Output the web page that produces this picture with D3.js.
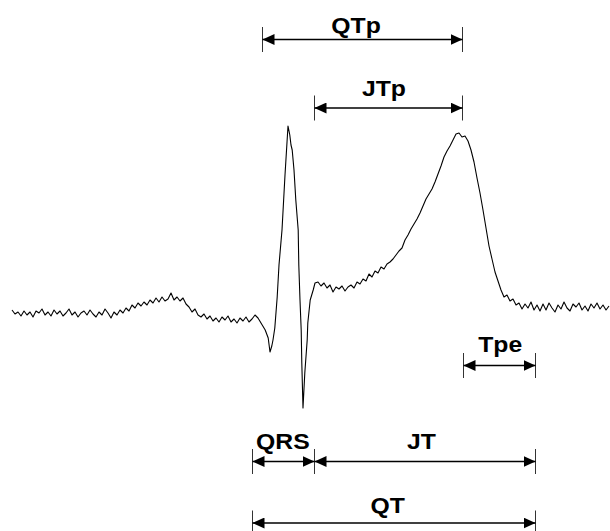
<!DOCTYPE html>
<html>
<head>
<meta charset="utf-8">
<script src="https://cdn.jsdelivr.net/npm/d3@7"></script>
<style>
  body { margin: 0; background: #fff; }
  svg { display: block; }
</style>
</head>
<body>
<div id="app"></div>
<script>
// ECG trace, amplitude in mV
// lead-in (P wave + baseline), one value every 5 ms from t = 0
const leadIn = [
  0.00,-0.04,-0.02,-0.06,-0.01,-0.05,-0.02,-0.07,-0.01,-0.03,
  0.01,-0.05,-0.02,-0.06,0.00,-0.04,-0.01,-0.06,-0.03,0.01,
  -0.05,-0.02,-0.07,-0.03,-0.01,-0.05,0.00,-0.04,-0.07,-0.02,
  -0.05,0.01,-0.03,-0.08,-0.02,-0.05,0.00,-0.03,0.02,-0.01,
  0.05,0.02,0.07,0.04,0.08,0.05,0.10,0.07,0.12,0.08,
  0.13,0.09,0.11,0.17,0.10,0.13,0.09,0.12,0.06,0.03,
  -0.02,0.01,-0.05,-0.07,-0.04,-0.09,-0.06,-0.11,-0.08,-0.12,
  -0.07,-0.10,-0.06,-0.12,-0.09,-0.13,-0.08,-0.11,-0.07,-0.12,
  -0.09,-0.05,-0.08
];
// QRS complex, [ms, mV]
const qrs = [
  [417,-0.15],[422,-0.20],[427,-0.28],[430,-0.42],[433,-0.36],[435,-0.30],
  [438,-0.18],[442,0.13],[445,0.45],[450,0.80],[455,1.35],[460,1.84],
  [463,1.75],[465,1.65],[467,1.60],[470,1.40],[473,1.10],[477,0.80],
  [478,0.45],[480,0.10],[482,-0.20],[483,-0.53],[485,-0.98],[488,-0.63],
  [492,-0.30],[493,-0.13],[497,0.10],[502,0.20]
];
// ST segment, T wave and tail, one value every 5 ms from t = 505
const repol = [
  0.27,0.28,0.24,0.27,0.22,0.25,0.18,0.23,0.21,0.24,
  0.19,0.23,0.25,0.22,0.28,0.26,0.31,0.29,0.36,0.33,
  0.39,0.37,0.43,0.41,0.46,0.48,0.51,0.55,0.59,0.62,
  0.70,0.75,0.81,0.86,0.91,0.97,1.04,1.11,1.16,1.21,
  1.28,1.36,1.44,1.53,1.59,1.64,1.70,1.76,1.77,1.73,
  1.74,1.69,1.60,1.48,1.32,1.17,1.00,0.82,0.64,0.51,
  0.38,0.29,0.20,0.13,0.15,0.09,0.11,0.05,0.07,0.01,
  0.06,0.02,0.08,0.00,0.05,-0.01,0.06,0.00,0.07,0.02,
  -0.02,0.05,0.01,0.08,0.02,-0.01,0.06,0.03,0.07,0.00,
  0.04,-0.01,0.06,0.02,0.07,0.01,0.05,0.00,0.04
];

// intervals (ms)
const intervalNames = ["QTp", "JTp", "Tpe", "QRS", "JT", "QT"];
const intervalStart = [417, 503, 752, 400, 503, 400];
const intervalEnd   = [750, 750, 872, 503, 872, 872];

let width = 610;
let height = 531;

// row layout for each interval: arrow line y, label baseline y, label nudge
const rowY   = {QTp: 39.5, JTp: 108, Tpe: 365.5, QRS: 461.5, JT: 461.5, QT: 523};
const labelY = {QTp: 33, JTp: 96, Tpe: 352, QRS: 448.5, JT: 448.5, QT: 512.5};
const labelDx = {QTp: -6, JTp: -4, Tpe: 1, QRS: 0, JT: -3, QT: -6};

const trace = [];
leadIn.forEach((v, i) => trace.push([i * 5, v]));
qrs.forEach(d => trace.push(d));
repol.forEach((v, i) => trace.push([505 + i * 5, v]));

const x = d3.scaleLinear().domain([0, 995]).range([12, 609]);
const y = d3.scaleLinear().domain([-1, 1.9]).range([410, 120]);

let svg = d3.select("#app")
  .append("svg")
  .attr("width", width)
  .attr("height", height)
  .attr("viewBox", [0, 0, width, height]);

svg.append("rect").attr("width", width).attr("height", height).attr("fill", "#fff");

const line = d3.line().x(d => x(d[0])).y(d => y(d[1]));

svg.append("path")
  .datum(trace)
  .attr("fill", "none")
  .attr("stroke", "#000")
  .attr("stroke-width", 1.1)
  .attr("stroke-linejoin", "round")
  .attr("d", line);

// arrowhead
svg.append("defs").append("marker")
  .attr("id", "head")
  .attr("viewBox", "0 0 12 11")
  .attr("refX", 12)
  .attr("refY", 5.5)
  .attr("markerUnits", "userSpaceOnUse")
  .attr("markerWidth", 12)
  .attr("markerHeight", 11)
  .attr("orient", "auto-start-reverse")
  .append("path")
  .attr("d", "M0,0L12,5.5L0,11Z")
  .attr("fill", "#000");

const intervals = intervalNames.map((name, i) => ({
  name, start: intervalStart[i], end: intervalEnd[i]
}));

let g = svg.append("g").attr("id", "intervals");

// end bars
intervals.forEach(d => {
  [d.start, d.end].forEach(t => {
    g.append("line")
      .attr("x1", Math.round(x(t)) + 0.5).attr("x2", Math.round(x(t)) + 0.5)
      .attr("y1", rowY[d.name] - 12.5).attr("y2", rowY[d.name] + 12.5)
      .attr("stroke", "#333")
      .attr("stroke-width", 1);
  });
});

g.selectAll(".arrow")
  .data(intervals)
  .join("line")
  .attr("class", "arrow")
  .attr("x1", d => Math.round(x(d.start)) + 0.5)
  .attr("x2", d => Math.round(x(d.end)) + 0.5)
  .attr("y1", d => rowY[d.name])
  .attr("y2", d => rowY[d.name])
  .attr("stroke", "#000")
  .attr("stroke-width", 1.5)
  .attr("marker-start", "url(#head)")
  .attr("marker-end", "url(#head)");

g.selectAll(".label")
  .data(intervals)
  .join("text")
  .attr("class", "label")
  .attr("transform", d => `translate(${(x(d.start) + x(d.end)) / 2 + labelDx[d.name]},${labelY[d.name]}) scale(1.1,1)`)
  .attr("text-anchor", "middle")
  .attr("font-family", "'Liberation Sans', Arial, sans-serif")
  .attr("font-weight", "bold")
  .attr("font-size", 22.5)
  .attr("fill", "#000")
  .text(d => d.name);
</script>
</body>
</html>
